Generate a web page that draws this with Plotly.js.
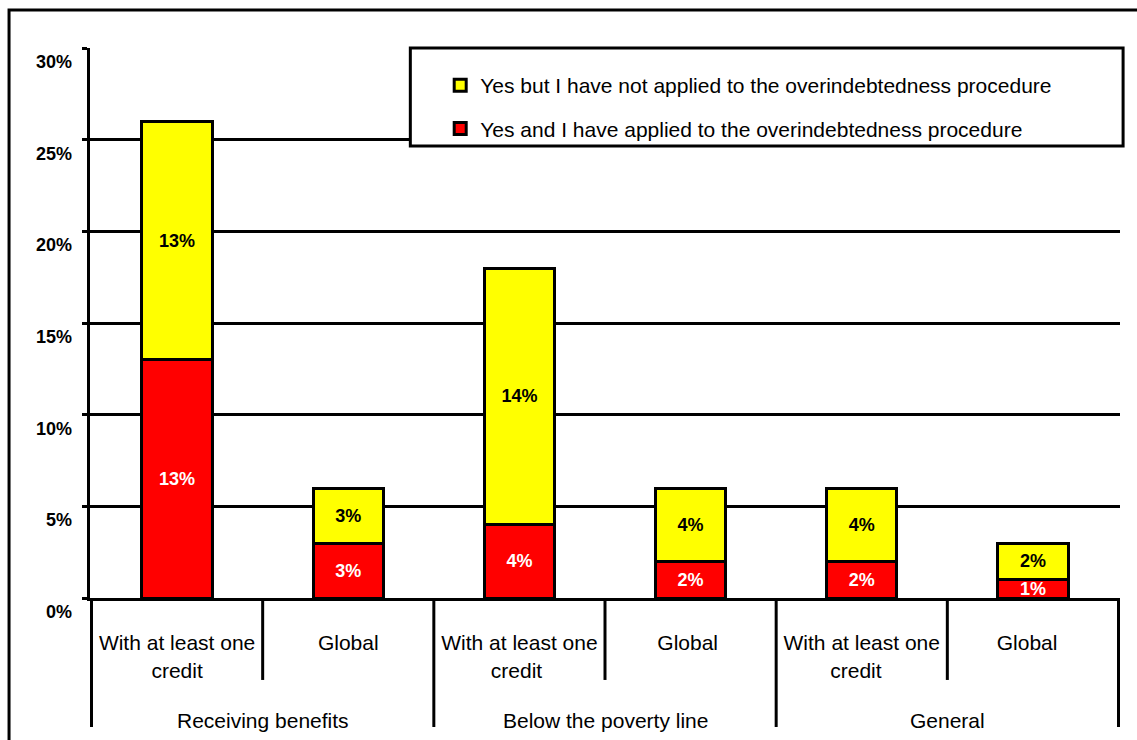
<!DOCTYPE html>
<html>
<head>
<meta charset="utf-8">
<script src="https://cdn.plot.ly/plotly-3.0.1.min.js"></script>
<style>
  html, body { margin: 0; padding: 0; background: #fff; }
  #chart { width: 1137px; height: 740px; }
</style>
</head>
<body>
<div id="chart"></div>
<script>
// ---- data ----
var groups = ["Receiving benefits", "Receiving benefits",
              "Below the poverty line", "Below the poverty line",
              "General", "General"];
// trailing spaces only keep the repeated labels distinct on the category axis
var subCategories = ["With at least one<br>credit", "Global",
                     "With at least one<br>credit ", "Global ",
                     "With at least one<br>credit  ", "Global  "];
var appliedValues = [13, 3, 4, 2, 2, 1];      // red: Yes and I have applied
var notAppliedValues = [13, 3, 14, 4, 4, 2];  // yellow: Yes but I have not applied
var seriesNames = [
  "Yes and I have applied to the overindebtedness procedure",
  "Yes but I have not applied to the overindebtedness procedure"
];
var yTickValues = [0, 5, 10, 15, 20, 25, 30];

var FONT = "Liberation Sans, Arial, sans-serif";
var LINE = { color: "#000", width: 3 };

var traces = [
  {
    type: "bar",
    name: seriesNames[0],
    legendgroup: "a",
    legendrank: 2,
    x: subCategories,
    y: appliedValues,
    marker: { color: "#ff0000", line: LINE },
    text: appliedValues.map(function (v) { return v + "%"; }),
    textposition: "inside",
    insidetextanchor: "middle",
    textangle: 0,
    textfont: { family: FONT, size: 18, color: "#ffffff", weight: "bold" },
    hoverinfo: "skip"
  },
  {
    type: "bar",
    name: seriesNames[1],
    legendgroup: "b",
    legendrank: 1,
    x: subCategories,
    y: notAppliedValues,
    marker: { color: "#ffff00", line: LINE },
    text: notAppliedValues.map(function (v) { return v + "%"; }),
    textposition: "inside",
    insidetextanchor: "middle",
    textangle: 0,
    textfont: { family: FONT, size: 18, color: "#000000", weight: "bold" },
    hoverinfo: "skip"
  }
];

// ---- decorations built from the category arrays ----
var shapes = [
  // outer frame
  { type: "rect", xref: "paper", yref: "paper",
    x0: -0.0786, x1: 1.2, y0: -0.4, y1: 1.069,
    line: LINE, fillcolor: "rgba(0,0,0,0)", layer: "below" },
  // legend box
  { type: "rect", xref: "paper", yref: "paper",
    x0: 0.311, x1: 1.003, y0: 0.822, y1: 1.0,
    line: LINE, fillcolor: "#ffffff", layer: "above" }
];
var annotations = [];

// dividers below the axis
for (var i = 0; i <= subCategories.length; i++) {
  var groupEdge = (i === 0 || i === subCategories.length || groups[i] !== groups[i - 1]);
  shapes.push({
    type: "line", xref: "x", yref: "paper",
    x0: i - 0.5, x1: i - 0.5, y0: 0, y1: groupEdge ? -0.2345 : -0.149,
    line: LINE
  });
}
// group labels
var seen = {};
groups.forEach(function (g) {
  if (seen[g] !== undefined) return;
  var idxs = [];
  groups.forEach(function (h, j) { if (h === g) idxs.push(j); });
  var center = (idxs[0] + idxs[idxs.length - 1]) / 2;
  seen[g] = center;
  annotations.push({
    xref: "x", yref: "paper", x: center, y: -0.222,
    xanchor: "center", yanchor: "middle", showarrow: false,
    text: g, font: { family: FONT, size: 21, color: "#000" }
  });
});
// y tick labels (sit a little below their gridlines, as in the reference)
yTickValues.forEach(function (v) {
  annotations.push({
    xref: "paper", yref: "y", x: 0, y: v,
    xanchor: "right", yanchor: "middle", xshift: -16, yshift: -14,
    showarrow: false, text: v + "%",
    font: { family: FONT, size: 18, color: "#000", weight: "bold" }
  });
});

var layout = {
  width: 1137,
  height: 740,
  margin: { l: 90, r: 17, t: 48, b: 142, pad: 0 },
  paper_bgcolor: "#ffffff",
  plot_bgcolor: "#ffffff",
  font: { family: FONT, size: 18, color: "#000" },
  barmode: "stack",
  bargap: 0.59,
  showlegend: true,
  uniformtext: { minsize: 18, mode: "show" },
  legend: {
    x: 0.34, y: 0.969, xanchor: "left", yanchor: "top",
    traceorder: "grouped",
    tracegroupgap: 13,
    bgcolor: "rgba(0,0,0,0)",
    borderwidth: 0,
    font: { family: FONT, size: 21, color: "#000" }
  },
  xaxis: {
    type: "category",
    showline: true, linecolor: "#000", linewidth: 3,
    showgrid: false, zeroline: false,
    ticks: "",
    ticklabelstandoff: 24,
    tickfont: { family: FONT, size: 21, color: "#000" },
    fixedrange: true
  },
  yaxis: {
    range: [0, 30],
    tickvals: yTickValues,
    showticklabels: false,
    showline: true, linecolor: "#000", linewidth: 3,
    showgrid: true, gridcolor: "#000", gridwidth: 3,
    zeroline: false,
    ticks: "outside", ticklen: 5, tickwidth: 3, tickcolor: "#000",
    fixedrange: true
  },
  shapes: shapes,
  annotations: annotations
};

Plotly.newPlot("chart", traces, layout, { staticPlot: true, displayModeBar: false });
</script>
</body>
</html>
